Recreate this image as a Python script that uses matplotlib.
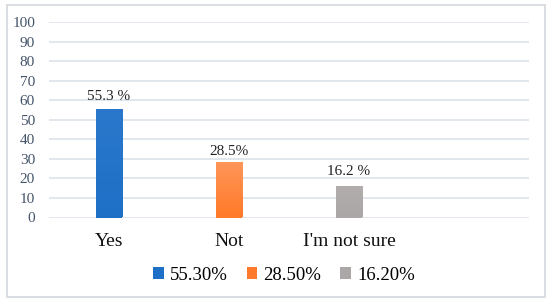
import matplotlib.pyplot as plt
import numpy as np
from matplotlib.patches import Rectangle
from matplotlib.colors import LinearSegmentedColormap

categories = ["Yes", "Not", "I'm not sure", ""]
values = [55.3, 28.5, 16.2]
bar_labels = ["55.3 %", "28.5%", "16.2 %"]
legend_labels = ["55.30%", "28.50%", "16.20%"]
colors = ["#1e70c6", "#ff7a2a", "#aba7a7"]
tops = ["#2a78cc", "#ff9658", "#b1adad"]  # lighter top for the gradient fill

plt.rcParams['font.family'] = ['Liberation Serif', 'DejaVu Serif']

fig = plt.figure(figsize=(5.5, 3.04), dpi=100)
ax = fig.add_axes([49 / 550, 1 - 217.5 / 304, 480 / 550, 195.5 / 304])

x = np.arange(len(categories))
for i, v in enumerate(values):
    b = ax.bar(x[i], v, width=0.22, color=colors[i], label=legend_labels[i], zorder=3)[0]
    # gradient fill inside the bar
    cmap = LinearSegmentedColormap.from_list('g', [colors[i], tops[i]])
    grad = np.linspace(0, 1, 64).reshape(-1, 1)
    im = ax.imshow(grad, cmap=cmap, origin='lower', aspect='auto', zorder=4,
                   extent=[b.get_x(), b.get_x() + b.get_width(), 0, v])
    im.set_clip_path(b)

offsets = [3.5, 2.0, 4.0]
for i, v in enumerate(values):
    ax.text(x[i], v + offsets[i], bar_labels[i], ha='center', va='bottom', fontsize=11, color='#222222')

ax.set_xlim(-0.5, len(categories) - 0.5)
ax.set_ylim(0, 100)
ax.set_yticks(range(0, 101, 10))
ax.set_xticks(x)
ax.set_xticklabels(categories, fontsize=14)
ax.tick_params(axis='y', labelsize=11, labelcolor='#44546a', length=0, pad=10)
ax.tick_params(axis='x', length=0, pad=11, labelcolor='#111111')
ax.grid(axis='y', color='#dde3ea', linewidth=1.2, zorder=0)
for s in ax.spines.values():
    s.set_visible(False)

fig.legend(loc='center', bbox_to_anchor=(284 / 550, 1 - 275 / 304), ncol=3, frameon=False,
           fontsize=13.5, handlelength=0.55, handleheight=0.55, handletextpad=0.35, columnspacing=1.0)

fig.patches.append(Rectangle((7 / 550, 1 - 297 / 304), 538 / 550, 292 / 304, transform=fig.transFigure,
                             fill=False, edgecolor='#d3d8de', linewidth=1.2))

fig.savefig('out.png', dpi=100)
